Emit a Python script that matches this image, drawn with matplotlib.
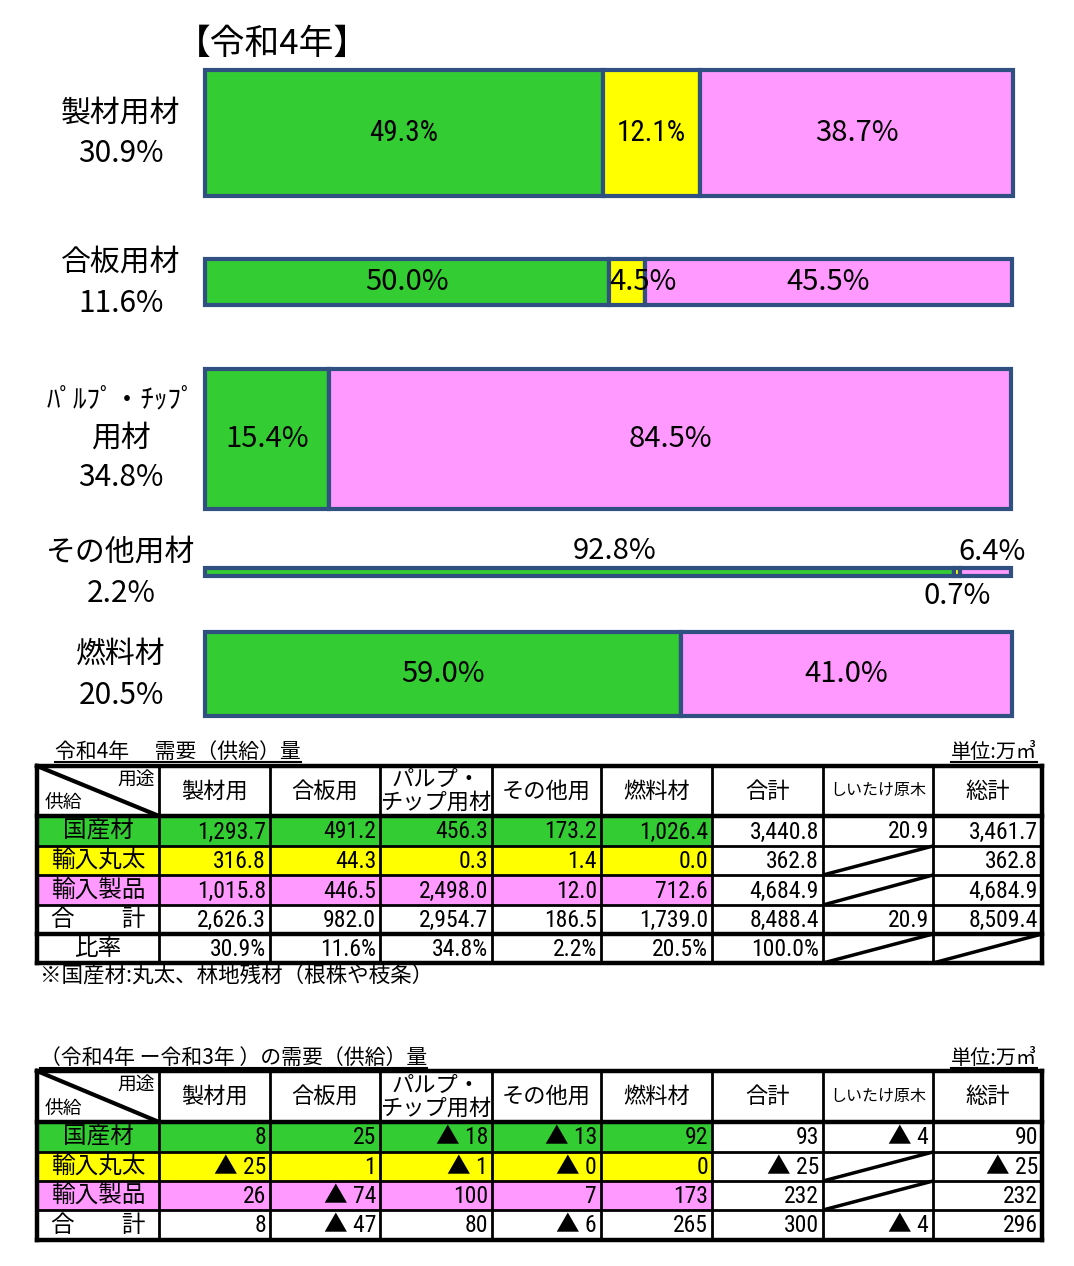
import matplotlib
matplotlib.use('Agg')
import matplotlib.pyplot as plt
from matplotlib import font_manager
from matplotlib.patches import Rectangle

# ---------------------------------------------------------------------------
# Data
# ---------------------------------------------------------------------------
TITLE = '【令和4年】'

USES = ['製材用材', '合板用材', 'ﾊﾟﾙﾌﾟ・ﾁｯﾌﾟ\n用材', 'その他用材', '燃料材']
USE_SHARE = [30.9, 11.6, 34.8, 2.2, 20.5]

DOMESTIC_PCT = [49.3, 50.0, 15.4, 92.8, 59.0]
IMPORT_LOG_PCT = [12.1, 4.5, 0.0, 0.7, 0.0]
IMPORT_PROD_PCT = [38.7, 45.5, 84.5, 6.4, 41.0]

TABLE_HEADERS = ['製材用', '合板用', 'パルプ・\nチップ用材', 'その他用', '燃料材',
                 '合計', 'しいたけ原木', '総計']
ROW_LABELS = ['国産材', '輸入丸太', '輸入製品', '合　　計', '比率']

# table 1: volumes (万m3), None = crossed-out cell
DOMESTIC_VOL = [1293.7, 491.2, 456.3, 173.2, 1026.4, 3440.8, 20.9, 3461.7]
IMPORT_LOG_VOL = [316.8, 44.3, 0.3, 1.4, 0.0, 362.8, None, 362.8]
IMPORT_PROD_VOL = [1015.8, 446.5, 2498.0, 12.0, 712.6, 4684.9, None, 4684.9]
TOTAL_VOL = [2626.3, 982.0, 2954.7, 186.5, 1739.0, 8488.4, 20.9, 8509.4]
RATIO_PCT = [30.9, 11.6, 34.8, 2.2, 20.5, 100.0, None, None]

# table 2: change from previous year (▲ = decrease)
DOMESTIC_DIFF = ['8', '25', '▲ 18', '▲ 13', '92', '93', '▲ 4', '90']
IMPORT_LOG_DIFF = ['▲ 25', '1', '▲ 1', '▲ 0', '0', '▲ 25', None, '▲ 25']
IMPORT_PROD_DIFF = ['26', '▲ 74', '100', '7', '173', '232', None, '232']
TOTAL_DIFF = ['8', '▲ 47', '80', '▲ 6', '265', '300', '▲ 4', '296']

TABLE1_TITLE = '令和4年　 需要（供給）量'
TABLE2_TITLE = '（令和4年 ー令和3年 ）の需要（供給）量'
UNIT = '単位:万㎥'
NOTE = '※国産材:丸太、林地残材（根株や枝条）'

# ---------------------------------------------------------------------------
# Style
# ---------------------------------------------------------------------------
GREEN = '#33CC33'
YELLOW = '#FFFF00'
PINK = '#FF99FF'
EDGE = '#2F5080'

W, H = 1074, 1266
JP = 'Noto Sans CJK JP'
plt.rcParams['font.family'] = [JP, 'DejaVu Sans']

# look for a narrow latin face for the numbers (the original uses a narrow gothic)
NARROW = {'family': [JP], 'fontstretch': 'normal'}
NUM_SCALE = 0.86
_fonts = font_manager.fontManager.ttflist
for pref in ['Liberation Sans Narrow', 'Roboto Condensed', 'DejaVu Sans', 'Noto Sans', 'Open Sans']:
    hit = [f for f in _fonts if f.name == pref and f.style == 'normal' and f.weight in (400, 'normal')
           and ('Narrow' in pref or 'Condensed' in pref or 'condensed' in str(f.stretch))]
    if hit:
        NARROW = {'family': [pref, JP], 'fontstretch': hit[0].stretch}
        NUM_SCALE = 1.0
        break

fig = plt.figure(figsize=(W / 100, H / 100), dpi=100)
fig.patch.set_facecolor('white')

# ---------------------------------------------------------------------------
# Stacked bars (x = percent, y = pixel rows of the page)
# ---------------------------------------------------------------------------
BAR_L, BAR_R = 205, 1012
TOP_Y0, TOP_Y1 = 20, 730
ax = fig.add_axes([BAR_L / W, 1 - TOP_Y1 / H, (BAR_R - BAR_L) / W, (TOP_Y1 - TOP_Y0) / H])
ax.set_xlim(0, 100)
ax.set_ylim(TOP_Y1, TOP_Y0)
ax.axis('off')

bar_centers = [133, 282, 439, 572, 674]
px_per_pct = 4.05

lefts = [0.0] * len(USES)
for vals, color in [(DOMESTIC_PCT, GREEN), (IMPORT_LOG_PCT, YELLOW), (IMPORT_PROD_PCT, PINK)]:
    heights = [s * px_per_pct for s in USE_SHARE]
    ax.barh(bar_centers, vals, height=heights, left=lefts, color=color,
            edgecolor=EDGE, linewidth=3, clip_on=False)
    for i, v in enumerate(vals):
        if v > 0 and i != 3:
            xc = lefts[i] + v / 2 + (2.0 if v < 6 else 0)
            if i == 0 and color != PINK:
                ax.text(xc, bar_centers[i], f'{v:.1f}%', ha='center', va='center',
                        fontsize=21 * NUM_SCALE, **NARROW)
            else:
                ax.text(xc, bar_centers[i], f'{v:.1f}%', ha='center', va='center', fontsize=21)
    lefts = [l + v for l, v in zip(lefts, vals)]

# the thin "その他" bar gets its labels outside
yc = bar_centers[3]
ax.text(50.7, yc - 21, f'{DOMESTIC_PCT[3]:.1f}%', ha='center', va='center', fontsize=21)
ax.text(97.5, yc - 20, f'{IMPORT_PROD_PCT[3]:.1f}%', ha='center', va='center', fontsize=21,
        clip_on=False)
ax.text(93.2, yc + 24, f'{IMPORT_LOG_PCT[3]:.1f}%', ha='center', va='center', fontsize=21)

# category labels on the left
lab_x = (121 - BAR_L) / (BAR_R - BAR_L) * 100
for i, (name, share) in enumerate(zip(USES, USE_SHARE)):
    lines = name.split('\n')
    if len(lines) == 2:
        ys = [bar_centers[i] - 39, bar_centers[i] - 1, bar_centers[i] + 39]
        sizes = [19.5, 21.5, 21.5]
    else:
        ys = [bar_centers[i] - 20, bar_centers[i] + 21]
        sizes = [21.5, 21.5]
    for t, y, fs in zip(lines + [f'{share:.1f}%'], ys, sizes):
        ax.text(lab_x, y, t, ha='center', va='center', fontsize=fs, clip_on=False)

ax.text((176 - BAR_L) / (BAR_R - BAR_L) * 100, 44, TITLE, ha='left', va='center',
        fontsize=25, clip_on=False)

# ---------------------------------------------------------------------------
# Tables (drawn on a page-sized overlay in pixel units)
# ---------------------------------------------------------------------------
tx = fig.add_axes([0, 0, 1, 1])
tx.set_xlim(0, W)
tx.set_ylim(H, 0)
tx.axis('off')
tx.patch.set_alpha(0)

COL_X = [37, 159, 270, 380, 492, 601, 712, 823, 933, 1042]
FILL_COLS = 6  # label column + five uses


def cross(x0, x1, y0, y1, lw=2.5):
    tx.plot([x0, x1], [y1, y0], color='black', lw=lw, solid_capstyle='butt')


def draw_table(row_y, rows, labels, fills, fmt, thick=()):
    x0, x1 = COL_X[0], COL_X[-1]
    # coloured cells
    for r, color in enumerate(fills):
        if color is None:
            continue
        for c in range(FILL_COLS):
            tx.add_patch(Rectangle((COL_X[c], row_y[r + 1]), COL_X[c + 1] - COL_X[c],
                                   row_y[r + 2] - row_y[r + 1], facecolor=color,
                                   edgecolor='none'))
    # grid
    for k, y in enumerate(row_y):
        lw = 3.2 if (k in (0, 1, len(row_y) - 1) or k in thick) else 2.0
        tx.plot([x0, x1], [y, y], color='black', lw=lw, solid_capstyle='projecting')
    for k, x in enumerate(COL_X):
        lw = 3.2 if k in (0, len(COL_X) - 1) else 2.0
        tx.plot([x, x], [row_y[0], row_y[-1]], color='black', lw=lw, solid_capstyle='projecting')

    # header
    tx.plot([COL_X[0], COL_X[1]], [row_y[0], row_y[1]], color='black', lw=3)
    tx.text(COL_X[1] - 4, row_y[0] + 14, '用途', ha='right', va='center', fontsize=13.5)
    tx.text(COL_X[0] + 8, row_y[1] - 13, '供給', ha='left', va='center', fontsize=13.5)
    hy = (row_y[0] + row_y[1]) / 2
    for c, h in enumerate(TABLE_HEADERS):
        cx = (COL_X[c + 1] + COL_X[c + 2]) / 2
        fs = 11.5 if len(h) > 5 and '\n' not in h else 16
        tx.text(cx, hy, h, ha='center', va='center', fontsize=fs, linespacing=1.0)

    # body
    for r, (lab, vals) in enumerate(zip(labels, rows)):
        ya, yb = row_y[r + 1], row_y[r + 2]
        ym = (ya + yb) / 2
        tx.text((COL_X[0] + COL_X[1]) / 2, ym, lab, ha='center', va='center', fontsize=17)
        for c, v in enumerate(vals):
            xa, xb = COL_X[c + 1], COL_X[c + 2]
            if v is None:
                cross(xa, xb, ya, yb)
            else:
                tx.text(xb - 4, ym + 1, fmt(v, r), ha='right', va='center',
                        fontsize=17 * NUM_SCALE, **NARROW)


def fmt_vol(v, r):
    return f'{v:.1f}%' if r == 4 else f'{v:,.1f}'


draw_table([766, 816, 846, 875, 905, 934, 963],
           [DOMESTIC_VOL, IMPORT_LOG_VOL, IMPORT_PROD_VOL, TOTAL_VOL, RATIO_PCT],
           ROW_LABELS, [GREEN, YELLOW, PINK, None, None], fmt_vol, thick=(5,))

draw_table([1071, 1122, 1152, 1181, 1210, 1240],
           [DOMESTIC_DIFF, IMPORT_LOG_DIFF, IMPORT_PROD_DIFF, TOTAL_DIFF],
           ROW_LABELS[:4], [GREEN, YELLOW, PINK, None], lambda v, r: v)

# titles with underline
underlined = [
    tx.text(55, 752, TABLE1_TITLE, ha='left', va='center', fontsize=15),
    tx.text(1037, 752, UNIT, ha='right', va='center', fontsize=14.5),
    tx.text(40, 1058, TABLE2_TITLE, ha='left', va='center', fontsize=15),
    tx.text(1037, 1058, UNIT, ha='right', va='center', fontsize=14.5),
]
tx.text(40, 976, NOTE, ha='left', va='center', fontsize=15.5)

fig.canvas.draw()
renderer = fig.canvas.get_renderer()
for t in underlined:
    bb = t.get_window_extent(renderer)
    yline = H - bb.y0 - 1
    tx.plot([bb.x0, bb.x1], [yline, yline], color='black', lw=1.5)

fig.savefig('out.png', dpi=100, facecolor='white')
